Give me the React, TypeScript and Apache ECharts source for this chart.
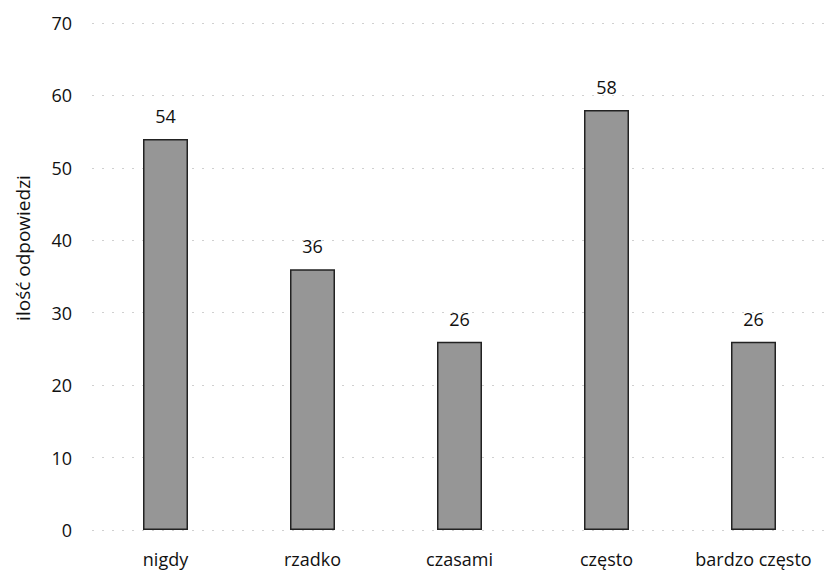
import React, { useEffect, useRef } from "react";
import * as echarts from "echarts";

const categories = ["nigdy", "rzadko", "czasami", "często", "bardzo często"];
const values = [54, 36, 26, 58, 26];
const yTicks = [0, 10, 20, 30, 40, 50, 60, 70];
const yAxisTitle = "ilość odpowiedzi";

export default function App() {
  const ref = useRef<HTMLDivElement>(null);
  useEffect(() => {
    if (!ref.current) return;
    const chart = echarts.init(ref.current, undefined, { renderer: "svg" });
    const font = "Open Sans";
    chart.setOption({
      animation: false,
      backgroundColor: "#ffffff",
      grid: { left: 92, right: -2, top: 23, bottom: 44 },
      graphic: [
        {
          type: "text",
          x: 23,
          y: 248,
          rotation: Math.PI / 2,
          style: {
            text: yAxisTitle,
            fill: "#111",
            fontSize: 19,
            fontFamily: font,
            align: "center",
            verticalAlign: "middle",
          },
        },
      ],
      xAxis: {
        type: "category",
        data: categories,
        axisLine: { show: false },
        axisTick: { show: false },
        axisLabel: {
          color: "#111",
          fontSize: 18,
          fontFamily: font,
          margin: 20,
          interval: 0,
          hideOverlap: false,
        },
      },
      yAxis: {
        type: "value",
        min: yTicks[0],
        max: yTicks[yTicks.length - 1],
        interval: 10,
        axisLine: { show: false },
        axisTick: { show: false },
        axisLabel: { color: "#111", fontSize: 18, fontFamily: font, margin: 20 },
        splitLine: { lineStyle: { color: "#d0d0d0", type: [2, 8], width: 1 } },
      },
      series: [
        {
          type: "bar",
          data: values,
          barWidth: 45,
          itemStyle: { color: "#969696", borderColor: "#222", borderWidth: 1.5 },
          label: {
            show: true,
            position: "top",
            distance: 14,
            color: "#111",
            fontSize: 18,
            fontFamily: font,
          },
        },
      ],
    });
    return () => chart.dispose();
  }, []);
  return (
    <div
      ref={ref}
      style={{ position: "fixed", left: 0, top: 0, width: 827, height: 574, background: "#fff" }}
    />
  );
}
